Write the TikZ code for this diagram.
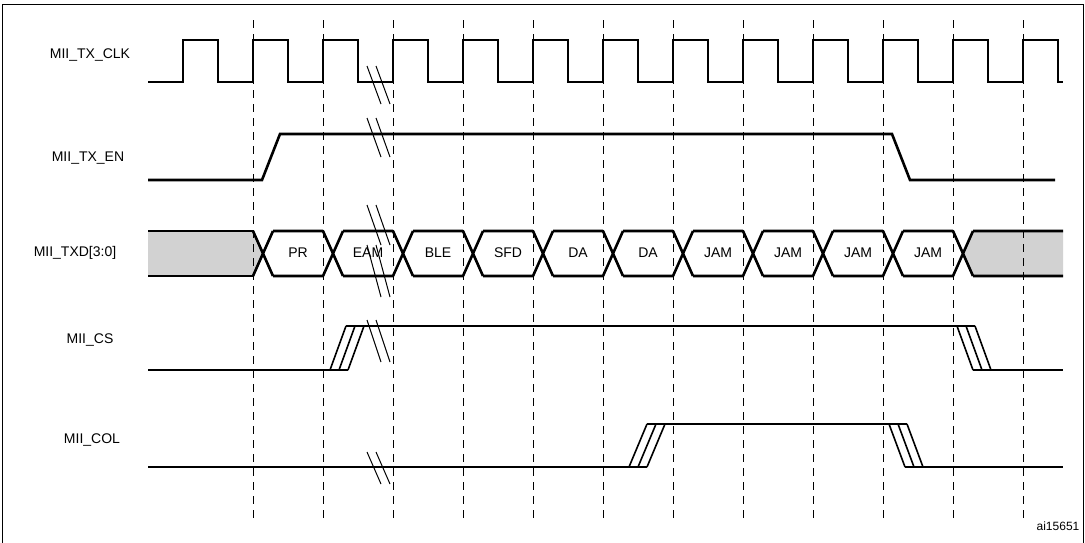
\documentclass[tikz,border=0pt]{standalone}
\usepackage{fontspec}
\setmainfont{Liberation Sans}
\begin{document}
\begin{tikzpicture}[x=1pt,y=-1pt,
  sig/.style={line width=2.6pt,line join=miter},
  thin3/.style={line width=1.6pt},
  grid/.style={dashed,line width=1pt,dash pattern=on 8pt off 6pt},
  brk/.style={line width=1pt},
  lbl/.style={font=\fontsize{14}{16}\selectfont,anchor=center},
  cell/.style={font=\fontsize{14}{16}\selectfont}]
\useasboundingbox (0,0) rectangle (1085,542);
\draw[line width=1pt] (2,4) -- (1083,4) (2,4) -- (2,545) (1083,4) -- (1083,545);
% gray areas
\fill[gray!35] (148,231) -- (253,231) -- (263,253) -- (253,276) -- (148,276) -- cycle;
\fill[gray!35] (973,231) -- (1063,231) -- (1063,276) -- (973,276) -- (963,253) -- cycle;
% grid
\foreach \i in {0,...,11} \draw[grid] (253+70*\i,20) -- (253+70*\i,518);
% labels
\node[lbl] (lclk) at (90,55) {MII\_TX\_CLK};
\node[lbl] (len) at (88,158) {MII\_TX\_EN};
\node[lbl] (ltxd) at (75,253) {MII\_TXD[3:0]};
\node[lbl] (lcs) at (90,340) {MII\_CS};
\node[lbl] (lcol) at (92,440) {MII\_COL};
\node[font=\fontsize{12}{14}\selectfont] (id) at (1058,526) {ai15651};
% clock
\draw[sig] (148,82) \foreach \i in {0,...,12} {-- (183+70*\i,82) -- (183+70*\i,40) -- (218+70*\i,40) -- (218+70*\i,82)} -- (1063,82);
% TX_EN
\draw[sig] (148,180) -- (262,180) -- (280,134) -- (892,134) -- (910,180) -- (1055,180);
% TXD
\draw[sig] (148,231) -- (253,231) (148,276) -- (253,276);
\foreach \i in {0,...,9} {
  \draw[sig] (253+70*\i,231) -- (273+70*\i,276) (253+70*\i,276) -- (273+70*\i,231)
    (273+70*\i,231) -- (253+70*\i+70,231) (273+70*\i,276) -- (253+70*\i+70,276);
}
\draw[sig] (953,231) -- (973,276) (953,276) -- (973,231) (973,231) -- (1063,231) (973,276) -- (1063,276);
\foreach \t [count=\i from 0] in {PR,EAM,BLE,SFD,DA,DA,JAM,JAM,JAM,JAM}
  \node[cell] (c\i) at (298+70*\i,253) {\t};
% CS
\draw[sig] (148,370) -- (330,370) (346,326) -- (975,326) (973,370) -- (1063,370);
\foreach \d in {0,9,18} {\draw[thin3] (330+\d,370) -- (346+\d,326); \draw[thin3] (957+\d,326) -- (973+\d,370);}
\draw[sig] (330,370) -- (348,370) (957,326) -- (975,326) (973,370) -- (991,370) (346,326) -- (364,326);
% COL
\draw[sig] (148,467) -- (629,467) (647,424) -- (907,424) (905,467) -- (1063,467);
\foreach \d in {0,9,18} {\draw[thin3] (629+\d,467) -- (647+\d,424); \draw[thin3] (889+\d,424) -- (905+\d,467);}
\draw[sig] (629,467) -- (647,467) (647,424) -- (665,424) (905,467) -- (923,467);
% break marks
\foreach \ya/\yb in {66/104,118/157,205/245,245/297,320/362,452/484}
  \foreach \d in {0,9} \draw[brk] (367+\d,\ya) -- (381+\d,\yb);
\end{tikzpicture}
\end{document}
